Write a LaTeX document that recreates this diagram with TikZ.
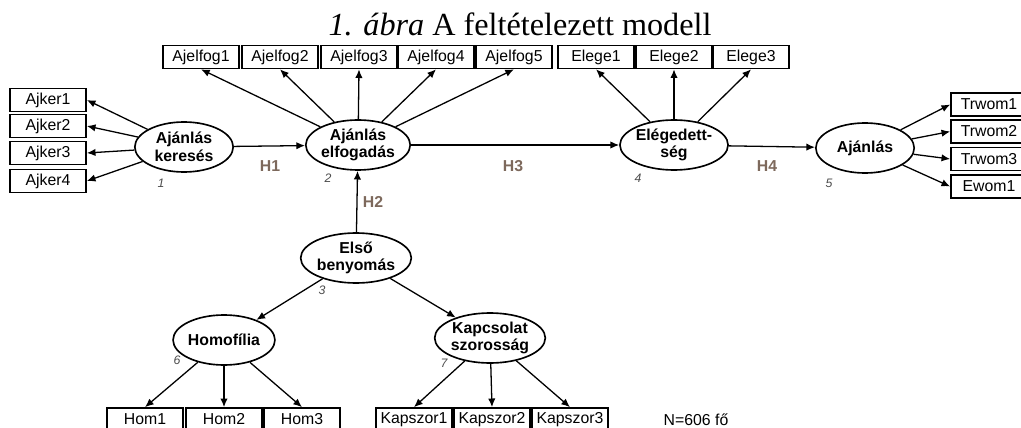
\documentclass[tikz,border=0pt]{standalone}
\usepackage{fontspec}
\setmainfont{Liberation Sans}
\newfontfamily\titlefont{Liberation Serif}
\usepackage{tikz}
\usetikzlibrary{positioning,shapes.geometric,arrows.meta}
\definecolor{hcol}{RGB}{125,105,92}
\tikzset{box/.style = {draw,line width=1.4pt,minimum width=2.28cm,minimum height=0.69cm,inner sep=0pt,font=\fontsize{13.5}{16}\selectfont}}
\tikzset{latent/.style = {ellipse,draw,line width=1.4pt,minimum width=2.95cm,minimum height=1.5cm,inner sep=0pt,align=center,font=\bfseries\fontsize{13.5}{15}\selectfont}}
\tikzset{hyp/.style = {font=\bfseries\fontsize{13.5}{14}\selectfont,text=hcol}}
\tikzset{num/.style = {font=\itshape\fontsize{10.5}{11}\selectfont,text=black!70}}
\tikzset{arr/.style = {-{Latex[length=2.6mm,width=2.2mm]},line width=1.1pt}}

\begin{document}
\begin{tikzpicture}[x=0.03cm,y=-0.03cm]
    \useasboundingbox (0,0) rectangle (1021,428);
    \clip (0,0) rectangle (1021,428);
    \node [anchor=base,font=\titlefont\fontsize{27.5}{28}\selectfont] (title) at (520,36) {\textit{1. ábra} A feltételezett modell};

    % latent variables
    \node [latent] (ker) at (184,147) {Ajánlás\\keresés};
    \node [latent] (elf) at (358,145) {Ajánlás\\elfogadás};
    \node [latent] (ele) at (674,145) {Elégedett-\\ség};
    \node [latent] (ajn) at (865,148) {Ajánlás};
    \node [latent] (elso) at (356,258) {Első\\benyomás};
    \node [latent] (hom) at (224,340) {Homofília};
    \node [latent] (kap) at (490,338) {Kapcsolat\\szorosság};

    % indicators
    \foreach \k/\y in {1/100,2/126,3/153,4/181} {
        \node [box] (ajker\k) at (48,\y) {Ajker\k};
        \draw [arr] (ker) -- (ajker\k.east);
    }
    \foreach \k/\x in {1/201,2/280,3/359,4/436,5/514} {
        \node [box] (ajelfog\k) at (\x,57) {Ajelfog\k};
        \draw [arr] (elf) -- (ajelfog\k.south);
    }
    \foreach \k/\x in {1/596,2/674,3/751} {
        \node [box] (elege\k) at (\x,57) {Elege\k};
        \draw [arr] (ele) -- (elege\k.south);
    }
    \foreach \k/\y/\t in {1/104.5/Trwom1,2/131.5/Trwom2,3/159/Trwom3,4/186.5/Ewom1} {
        \node [box] (wom\k) at (989,\y) {\t};
        \draw [arr] (ajn) -- (wom\k.west);
    }
    \foreach \k/\x in {1/145,2/224,3/302} {
        \node [box] (hom\k) at (\x,419.5) {Hom\k};
        \draw [arr] (hom) -- (hom\k.north);
    }
    \foreach \k/\x in {1/414,2/492,3/570} {
        \node [box] (kapszor\k) at (\x,419.5) {Kapszor\k};
        \draw [arr] (kap) -- (kapszor\k.north);
    }

    % structural paths
    \draw [arr] (ker) -- (elf);
    \draw [arr] (elf) -- (ele);
    \draw [arr] (ele) -- (ajn);
    \draw [arr] (elso) -- (elf);
    \draw [arr] (elso) -- (hom);
    \draw [arr] (elso) -- (kap);

    \node [hyp] (h1) at (270,166) {H1};
    \node [hyp] (h2) at (373,202) {H2};
    \node [hyp] (h3) at (513,166) {H3};
    \node [hyp] (h4) at (767,166) {H4};

    \foreach \n/\x/\y in {1/161/183,2/328/178,3/322/290,4/638/178,5/829/183,6/177/360,7/444/363} {
        \node [num] (n\n) at (\x,\y) {\n};
    }
    \node [font=\fontsize{13.5}{16}\selectfont] (nfo) at (696,420) {N=606 fő};
\end{tikzpicture}
\end{document}
